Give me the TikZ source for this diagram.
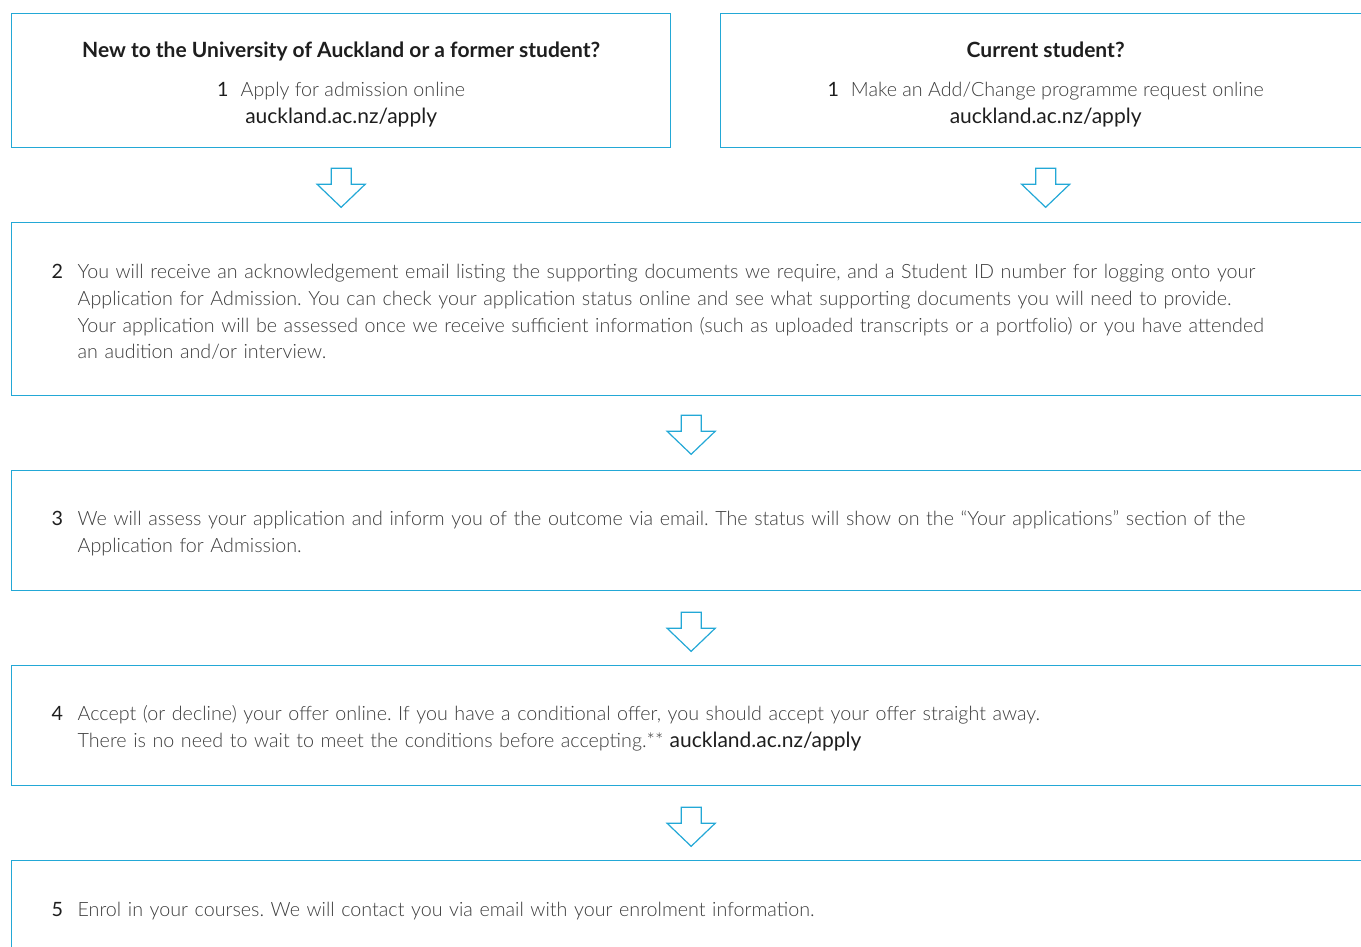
\documentclass[tikz,border=0pt]{standalone}
\usepackage{fontspec}
\IfFontExistsTF{Lato Light}
  {\setmainfont{Lato}[UprightFont=* Light, BoldFont=* Bold]}
  {\setmainfont{Lato}}
\newfontfamily\regfont{Lato}
\usetikzlibrary{positioning}
\definecolor{uoablue}{RGB}{35,168,214}
\definecolor{bodygray}{RGB}{60,60,60}
\definecolor{numgray}{RGB}{30,30,30}

\newcommand\stepno[1]{\rule{0pt}{20pt}\makebox[26pt][l]{\regfont\color{numgray}#1}}
\newcommand\uoalink{{\regfont\fontsize{21}{26.7}\selectfont\color{numgray}auckland.ac.nz/apply}}
\newcommand\boxhead[1]{\rule{0pt}{23pt}{\fontsize{21}{26.7}\selectfont\bfseries\color{numgray}#1}}

\tikzset{
  dnarrow/.pic={
    \draw[uoablue, line width=1.2pt, line join=miter]
      (-10,0) -- (10,0) -- (10,-16) -- (24,-16) -- (0,-39) -- (-24,-16) -- (-10,-16) -- cycle;
  }
}

\begin{document}
\begin{tikzpicture}[x=1pt,y=1pt,
  font=\fontsize{19.7}{26.7}\selectfont\frenchspacing\color{bodygray},
  box/.style={draw=uoablue, line width=1.3pt, anchor=north west, inner sep=0pt},
  topbox/.style={box, minimum height=134, align=center},
  stepbox/.style={box, minimum width=1359, text width=1279pt, inner xsep=40pt, align=left}]
\clip (0,0) rectangle (1361,-946);

\node[topbox, minimum width=659] (new) at (11,-13)
  {\boxhead{New to the University of Auckland or a former student?}\\[13pt]
   {\regfont\color{numgray}1}\hspace{12pt}Apply for admission online\\
   \uoalink};
\node[topbox, minimum width=650] (current) at (720,-13)
  {\boxhead{Current student?}\\[13pt]
   {\regfont\color{numgray}1}\hspace{12pt}Make an Add/Change programme request online\\
   \uoalink};

\pic at ([yshift=-20]new.south) {dnarrow};
\pic at ([yshift=-20]current.south) {dnarrow};

\node[stepbox, minimum height=173] (s2) at (11,-222)
  {\stepno{2}You will receive an acknowledgement email listing the supporting documents we require, and a Student ID number for logging onto your\\
   \hspace*{26pt}Application for Admission. You can check your application status online and see what supporting documents you will need to provide.\\
   \hspace*{26pt}Your application will be assessed once we receive sufficient information (such as uploaded transcripts or a portfolio) or you have attended\\
   \hspace*{26pt}an audition and/or interview.};
\pic at ([yshift=-19]s2.south) {dnarrow};

\node[stepbox, minimum height=120] (s3) at (11,-470)
  {\stepno{3}We will assess your application and inform you of the outcome via email. The status will show on the “Your applications” section of the\\
   \hspace*{26pt}Application for Admission.};
\pic at ([yshift=-21]s3.south) {dnarrow};

\node[stepbox, minimum height=120] (s4) at (11,-665)
  {\stepno{4}Accept (or decline) your offer online. If you have a conditional offer, you should accept your offer straight away.\\
   \hspace*{26pt}There is no need to wait to meet the conditions before accepting.** \uoalink};
\pic at ([yshift=-21]s4.south) {dnarrow};

\node[stepbox, minimum height=96] (s5) at (11,-860)
  {\stepno{5}Enrol in your courses. We will contact you via email with your enrolment information.};
\end{tikzpicture}
\end{document}
